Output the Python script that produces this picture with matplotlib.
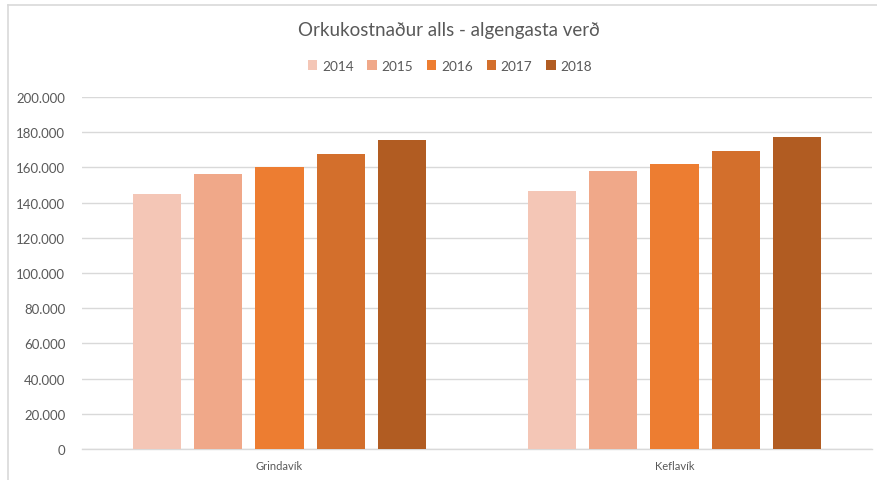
import matplotlib.pyplot as plt
from matplotlib.lines import Line2D
from matplotlib.ticker import FuncFormatter

# Orkukostnaður per town and year
towns = ["Grindavík", "Keflavík"]
years = ["2014", "2015", "2016", "2017", "2018"]
grindavik = [145000, 156500, 160300, 167500, 175300]
keflavik = [146500, 158000, 162000, 169300, 177200]
colors = ["#F4C6B6", "#F0A889", "#ED7D31", "#D36F2C", "#B15C22"]

plt.rcParams["font.family"] = ["Lato", "DejaVu Sans"]
text_color = "#595959"
grid_color = "#D9D9D9"

fig = plt.figure(figsize=(8.77, 4.81), dpi=100)
ax = fig.add_axes([82 / 877, 31 / 481, 790 / 877, 352 / 481])

values = list(zip(grindavik, keflavik))
slot = 0.155
width = 0.122
for i, year in enumerate(years):
    offset = (i - 2) * slot
    xs = [t + offset for t in range(len(towns))]
    ax.bar(xs, values[i], width=width, color=colors[i], label=year, zorder=3)

ax.set_xlim(-0.5, 1.5)
ax.set_ylim(0, 200000)
ax.set_yticks(range(0, 200001, 20000))
ax.yaxis.set_major_formatter(FuncFormatter(lambda v, p: f"{int(v):,}".replace(",", ".")))
ax.set_xticks(range(len(towns)))
ax.set_xticklabels(towns)

ax.grid(axis="y", color=grid_color, linewidth=1, zorder=0)
for side in ["top", "right", "left"]:
    ax.spines[side].set_visible(False)
ax.spines["bottom"].set_color(grid_color)
ax.spines["bottom"].set_linewidth(1)
ax.tick_params(axis="y", length=0, pad=12, labelsize=9.5, labelcolor=text_color)
ax.tick_params(axis="x", length=0, pad=8, labelsize=8, labelcolor=text_color)

fig.text(0.512, 0.937, "Orkukostnaður alls - algengasta verð", ha="center", va="center",
         fontsize=13.5, color=text_color)
fig.legend(loc="center", bbox_to_anchor=(0.513, 0.861), ncol=5, frameon=False,
           fontsize=9.8, labelcolor=text_color, handlelength=0.7, handleheight=0.7,
           handletextpad=0.35, columnspacing=1.0)

# chart border
fig.add_artist(Line2D([8 / 877, 1], [1 - 6 / 481, 1 - 6 / 481], color=grid_color, linewidth=1.2))
fig.add_artist(Line2D([8 / 877, 8 / 877], [0, 1 - 6 / 481], color=grid_color, linewidth=1.2))

fig.savefig("out.png", dpi=100)
